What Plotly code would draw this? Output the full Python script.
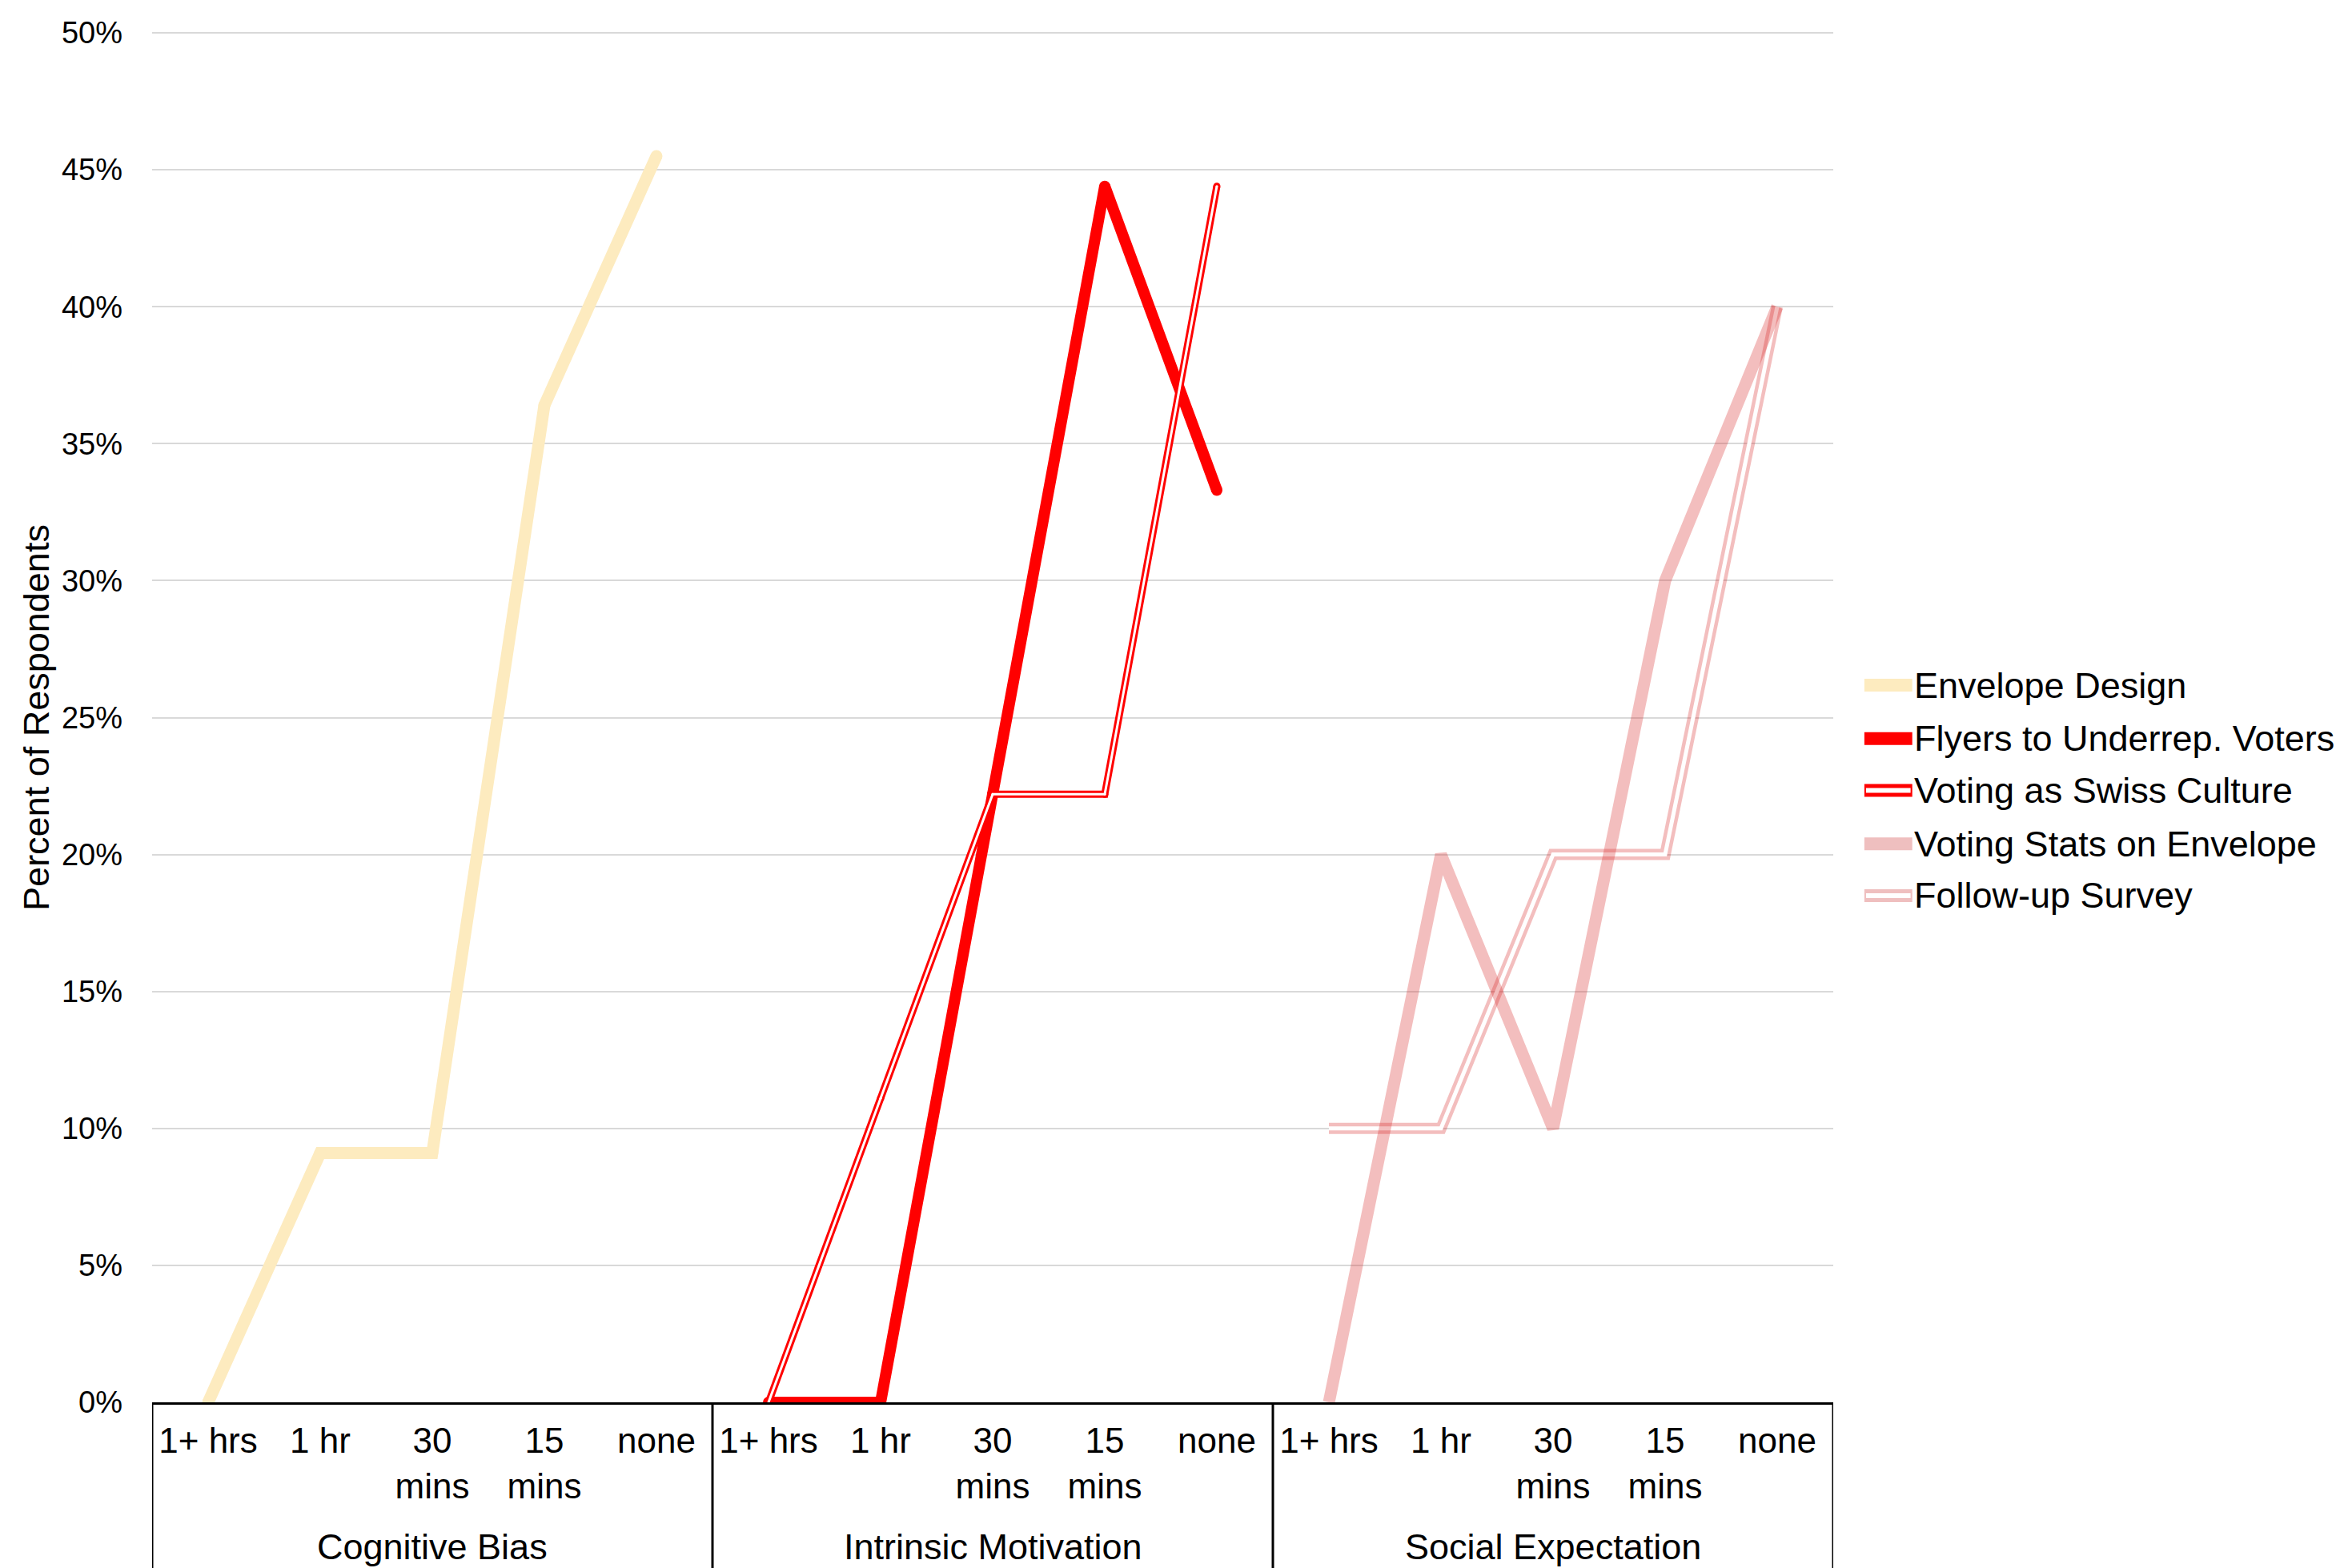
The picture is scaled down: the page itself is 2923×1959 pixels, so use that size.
import plotly.graph_objects as go

# ---- data ----
groups = ["Cognitive Bias", "Intrinsic Motivation", "Social Expectation"]
times = ["1+ hrs", "1 hr", "30<br>mins", "15<br>mins", "none"]

envelope_design = [0.0, 0.091, 0.091, 0.364, 0.455]      # Cognitive Bias
flyers_underrep = [0.0, 0.0, 0.222, 0.444, 0.333]        # Intrinsic Motivation
swiss_culture = [0.0, 0.111, 0.222, 0.222, 0.444]        # Intrinsic Motivation
voting_stats = [0.0, 0.20, 0.10, 0.30, 0.40]             # Social Expectation
follow_up = [0.10, 0.10, 0.20, 0.20, 0.40]               # Social Expectation

series_names = ["Envelope Design", "Flyers to Underrep. Voters", "Voting as Swiss Culture",
                "Voting Stats on Envelope", "Follow-up Survey"]

n_t = len(times)
n_cat = len(groups) * n_t
tick_pos = list(range(n_cat))
tick_text = [t for _ in groups for t in times]


def xs(group_idx):
    return [group_idx * n_t + i for i in range(n_t)]


FONT = "Arial, Liberation Sans, sans-serif"
C_ENV = "#FDEBBF"
C_RED = "#FF0000"
C_PINK = "rgba(214, 40, 40, 0.30)"
C_PINK_SOLID = "#EFBFBF"

fig = go.Figure()


def add_line(x, y, color, width, name, round_joins=True):
    # round markers at the vertices imitate round line joins / caps
    fig.add_trace(go.Scatter(
        x=x, y=y, mode="lines+markers" if round_joins else "lines", name=name, showlegend=False,
        line=dict(color=color, width=width),
        marker=dict(color=color, size=width, line=dict(width=0)),
        hoverinfo="skip"))


add_line(xs(0), envelope_design, C_ENV, 15, series_names[0])
add_line(xs(1), flyers_underrep, C_RED, 14, series_names[1])
add_line(xs(1), swiss_culture, C_RED, 9, series_names[2])
add_line(xs(1), swiss_culture, "white", 3, series_names[2] + " (inner)")
add_line(xs(2), follow_up, C_PINK, 14, series_names[4], round_joins=False)
add_line(xs(2), follow_up, "white", 5, series_names[4] + " (inner)", round_joins=False)
add_line(xs(2), voting_stats, C_PINK, 15, series_names[3], round_joins=False)

# page has an 8px body margin; compensate so the plot sits where the reference has it
W, H = 2915, 1951
ML, MR, MT, MB = 182, 633, 25, 207
plot_h = H - MT - MB
y_bottom = -MB / plot_h  # paper y of the page bottom

shapes = []
annotations = []

# top (50%) gridline, which plotly omits at the range edge
shapes.append(dict(type="line", xref="paper", yref="paper", x0=0, x1=1, y0=1, y1=1,
                   line=dict(color="#D9D9D9", width=2), layer="below"))

# frame lines of the category axis
for xb in [-0.5 + k * n_t for k in range(len(groups) + 1)]:
    shapes.append(dict(type="line", xref="x", yref="paper", x0=xb, x1=xb, y0=0, y1=y_bottom - 0.01,
                       line=dict(color="black", width=3), layer="above"))

# group labels
for k, g in enumerate(groups):
    annotations.append(dict(text=g, xref="x", yref="paper", x=k * n_t + (n_t - 1) / 2,
                            y=-181 / plot_h, xanchor="center", yanchor="middle", showarrow=False,
                            font=dict(family=FONT, size=45, color="black")))

# ---- custom legend (double-line symbols need drawing by hand) ----
leg_styles = [
    (C_ENV, None),
    (C_RED, None),
    (C_RED, 6),
    (C_PINK_SOLID, None),
    (C_PINK_SOLID, 6),
]
leg_y = [0.5236, 0.4846, 0.4468, 0.4078, 0.3700]
x0, x1 = 1.0185, 1.0470
for name, (col, inner), yy in zip(series_names, leg_styles, leg_y):
    shapes.append(dict(type="line", xref="paper", yref="paper", x0=x0, x1=x1, y0=yy, y1=yy,
                       line=dict(color=col, width=16), layer="above"))
    if inner:
        shapes.append(dict(type="line", xref="paper", yref="paper", x0=x0 + 0.001, x1=x1 - 0.001,
                           y0=yy, y1=yy, line=dict(color="white", width=inner), layer="above"))
    annotations.append(dict(text=name, xref="paper", yref="paper", x=1.0470, y=yy,
                            xanchor="left", yanchor="middle", showarrow=False,
                            font=dict(family=FONT, size=45, color="black")))

fig.update_layout(
    width=W, height=H,
    margin=dict(l=ML, r=MR, t=MT, b=MB),
    paper_bgcolor="white", plot_bgcolor="white",
    font=dict(family=FONT, color="black"),
    showlegend=False,
    shapes=shapes,
    annotations=annotations,
    xaxis=dict(
        range=[-0.5, n_cat - 0.5],
        tickmode="array", tickvals=tick_pos, ticktext=tick_text,
        showline=True, linecolor="black", linewidth=3,
        showgrid=False, zeroline=False, ticks="",
        ticklabelstandoff=7,
        tickfont=dict(family=FONT, size=44, color="black"),
    ),
    yaxis=dict(
        range=[0, 0.5], dtick=0.05, tickformat=".0%",
        showgrid=True, gridcolor="#D9D9D9", gridwidth=2,
        zeroline=False, showline=False, ticks="",
        ticklabelstandoff=36,
        tickfont=dict(family=FONT, size=38, color="black"),
        title=dict(text="Percent of Respondents", standoff=1,
                   font=dict(family=FONT, size=45, color="black")),
    ),
)

fig.write_html("out.html")
